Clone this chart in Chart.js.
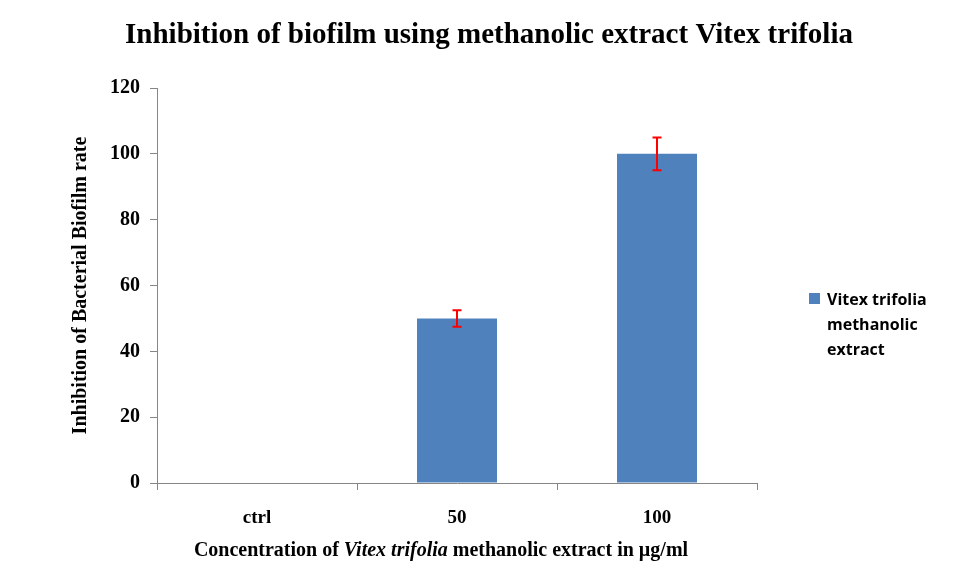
<!DOCTYPE html>
<html lang="en">
<head>
  <meta charset="UTF-8" />
  <title>Inhibition of biofilm</title>
  <script src="https://cdn.jsdelivr.net/npm/chart.js@4.4.1/dist/chart.umd.min.js"></script>
  <style>
    html, body { margin: 0; padding: 0; background: #fff; }
    #wrap { width: 978px; height: 587px; }
  </style>
</head>
<body>
  <div id="wrap"><canvas id="barChart"></canvas></div>
<script>
  // data
  const categories = ["ctrl", "50", "100"];
  const inhibition = [0, 50, 100];
  const errors = [0, 2.5, 5];
  const seriesLabel = ["Vitex trifolia", "methanolic", "extract"];
  const yTicks = [0, 20, 40, 60, 80, 100, 120];

  const axisGray = '#868686';
  const serif = "'Liberation Serif', 'DejaVu Serif', serif";

  // red error bars, placed with the chart's own scales
  const errorBars = {
    id: 'errorBars',
    afterDatasetsDraw(chart) {
      const ctx = chart.ctx;
      const x = chart.scales.x, y = chart.scales.y;
      ctx.save();
      ctx.strokeStyle = '#ff0000';
      ctx.lineWidth = 2;
      for (var i = 0; i < inhibition.length; i++) {
        if (!errors[i]) continue;
        const cx = x.getPixelForValue(i);
        const top = y.getPixelForValue(inhibition[i] + errors[i]);
        const bot = y.getPixelForValue(inhibition[i] - errors[i]);
        ctx.beginPath();
        ctx.moveTo(cx, top); ctx.lineTo(cx, bot);
        ctx.moveTo(cx - 4.5, top); ctx.lineTo(cx + 4.5, top);
        ctx.moveTo(cx - 4.5, bot); ctx.lineTo(cx + 4.5, bot);
        ctx.stroke();
      }
      ctx.restore();
    }
  };

  // chart title, x title with the italic species name, and the multi-line legend
  const extraText = {
    id: 'extraText',
    afterDraw(chart) {
      const ctx = chart.ctx;
      ctx.save();
      ctx.fillStyle = '#000';
      ctx.textBaseline = 'middle';

      ctx.textAlign = 'center';
      ctx.font = "bold 29px " + serif;
      ctx.fillText('Inhibition of biofilm using methanolic extract Vitex trifolia', 489, 36);
      ctx.textAlign = 'left';

      const parts = [
        ["Concentration of ", "bold 20px " + serif],
        ["Vitex trifolia", "italic bold 20px " + serif],
        [" methanolic extract in \u00b5g/ml", "bold 20px " + serif]
      ];
      var total = 0;
      parts.forEach(function(p) { ctx.font = p[1]; total += ctx.measureText(p[0]).width; });
      var tx = 441 - total / 2;
      parts.forEach(function(p) {
        ctx.font = p[1];
        ctx.fillText(p[0], tx, 551);
        tx += ctx.measureText(p[0]).width;
      });

      // legend
      ctx.fillStyle = '#4F81BD';
      ctx.fillRect(809, 293, 11, 11);
      ctx.fillStyle = '#000';
      ctx.font = "bold 16px 'Open Sans', sans-serif";
      seriesLabel.forEach(function(line, i) {
        ctx.fillText(line, 827, 300 + i * 25);
      });
      ctx.restore();
    }
  };

  new Chart("barChart", {
    type: 'bar',
    data: {
      labels: categories,
      datasets: [{
        label: seriesLabel.join(' '),
        data: inhibition,
        backgroundColor: '#4F81BD',
        barPercentage: 0.4,
        categoryPercentage: 1.0
      }]
    },
    options: {
      responsive: true,
      maintainAspectRatio: false,
      animation: false,
      layout: { padding: { left: 69, right: 221, top: 88, bottom: 0 } },
      plugins: {
        legend: { display: false },
        tooltip: { enabled: false },
        title: { display: false }
      },
      scales: {
        x: {
          grid: { drawOnChartArea: false, drawTicks: true, tickLength: 7, color: axisGray, offset: true },
          border: { color: axisGray },
          ticks: { color: '#000', padding: 17, font: { family: serif, weight: 'bold', size: 19 } },
          afterFit: function(s) { s.height = 104; }
        },
        y: {
          min: 0,
          max: 120,
          afterBuildTicks: function(s) { s.ticks = yTicks.map(function(v) { return { value: v }; }); },
          grid: { drawOnChartArea: false, drawTicks: true, tickLength: 7, color: axisGray },
          border: { color: axisGray },
          ticks: { color: '#000', padding: 10, font: { family: serif, weight: 'bold', size: 20 } },
          title: {
            display: true,
            text: 'Inhibition of Bacterial Biofilm rate',
            color: '#000',
            padding: { top: 0, bottom: 0 },
            font: { family: serif, weight: 'bold', size: 20 }
          },
          afterFit: function(s) { s.width = 88; }
        }
      }
    },
    plugins: [errorBars, extraText]
  });
</script>
</body>
</html>
